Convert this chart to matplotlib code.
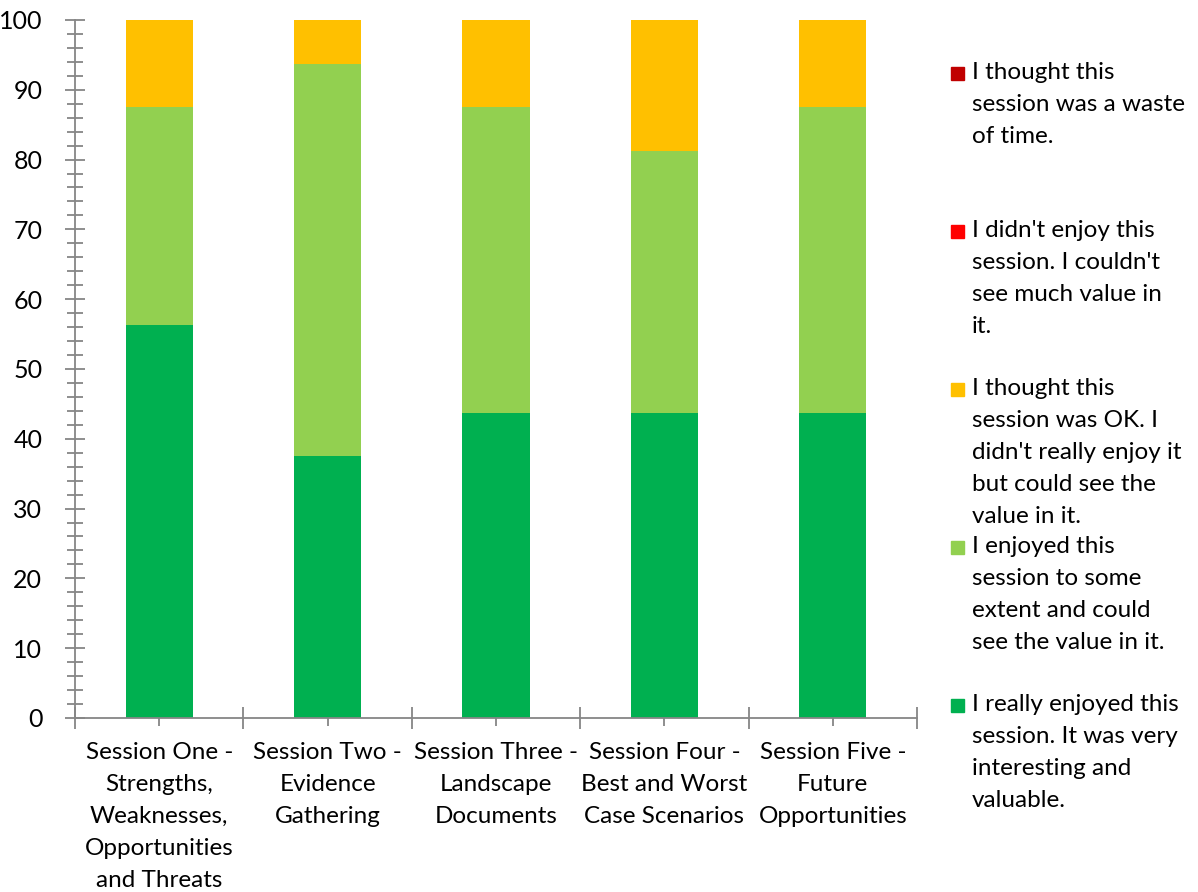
import numpy as np
import matplotlib.pyplot as plt
from matplotlib.patches import Rectangle

plt.rcParams['font.family'] = ['Lato', 'DejaVu Sans']

sessions = [
    'Session One -\nStrengths,\nWeaknesses,\nOpportunities\nand Threats',
    'Session Two -\nEvidence\nGathering',
    'Session Three -\nLandscape\nDocuments',
    'Session Four -\nBest and Worst\nCase Scenarios',
    'Session Five -\nFuture\nOpportunities',
]

# response shares (%) per session, bottom of the stack first
really_enjoyed = [56.25, 37.5, 43.75, 43.75, 43.75]
some_extent = [31.25, 56.25, 43.75, 37.5, 43.75]
ok = [12.5, 6.25, 12.5, 18.75, 12.5]
didnt_enjoy = [0, 0, 0, 0, 0]
waste = [0, 0, 0, 0, 0]

labels = [
    "I really enjoyed this\nsession. It was very\ninteresting and\nvaluable.",
    "I enjoyed this\nsession to some\nextent and could\nsee the value in it.",
    "I thought this\nsession was OK. I\ndidn't really enjoy it\nbut could see the\nvalue in it.",
    "I didn't enjoy this\nsession. I couldn't\nsee much value in\nit.",
    "I thought this\nsession was a waste\nof time.",
]
colors = ['#00B050', '#92D050', '#FFC000', '#FF0000', '#C00000']
series = [really_enjoyed, some_extent, ok, didnt_enjoy, waste]

fig = plt.figure(figsize=(11.98, 8.92), dpi=100)
ax = fig.add_axes([0.0626, 0.1951, 0.7028, 0.7825])

x = np.arange(len(sessions))
bottom = np.zeros(len(sessions))
for vals, col in zip(series, colors):
    ax.bar(x, vals, width=0.4, bottom=bottom, color=col, zorder=2)
    bottom += np.array(vals)

axis_grey = '#868686'
ax.set_xlim(-0.5, len(sessions) - 0.5)
ax.set_ylim(0, 100)
ax.set_yticks(np.arange(0, 101, 10))
ax.set_yticks(np.arange(0, 101, 2), minor=True)
ax.tick_params(axis='y', which='major', direction='inout', length=15, width=1.3,
               color=axis_grey, labelsize=18, pad=16)
ax.tick_params(axis='y', which='minor', direction='inout', length=11, width=1.3,
               color=axis_grey)

# category labels at bar centres, tick marks on the category boundaries
ax.set_xticks(x)
ax.set_xticklabels(sessions, fontsize=17.5, linespacing=1.66)
ax.tick_params(axis='x', which='major', direction='out', length=6, width=1.3,
               color=axis_grey, pad=11)
ax.set_xticks(np.arange(-0.5, len(sessions) + 0.5, 1), minor=True)
ax.tick_params(axis='x', which='minor', direction='inout', length=16, width=1.3,
               color=axis_grey)

for side in ['top', 'right']:
    ax.spines[side].set_visible(False)
for side in ['left', 'bottom']:
    ax.spines[side].set_color(axis_grey)
    ax.spines[side].set_linewidth(1.3)

# legend drawn by hand, top entry first
W, H = 1198, 892
entry_tops = [72, 230, 388, 546, 704]
for top, lab, col in zip(entry_tops, labels[::-1], colors[::-1]):
    fig.patches.append(Rectangle((951 / W, 1 - (top + 8) / H), 13 / W, 13 / H,
                                 transform=fig.transFigure, color=col))
    fig.text(972 / W, 1 - (top - 10) / H, lab, fontsize=17.5, va='top',
             ha='left', linespacing=1.64)

fig.savefig('out.png', dpi=100)
